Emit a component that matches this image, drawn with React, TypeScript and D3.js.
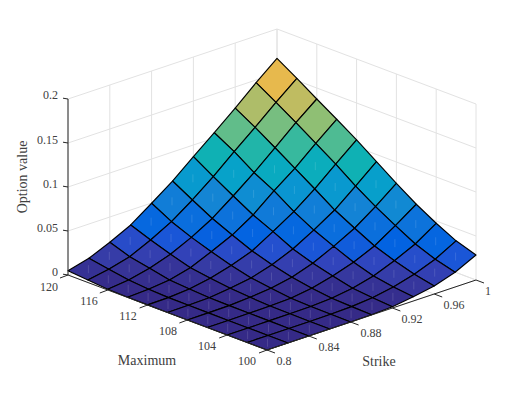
import React from "react";
import * as d3 from "d3";

const strikes = [0.8, 0.82, 0.84, 0.86, 0.88, 0.9, 0.92, 0.94, 0.96, 0.98, 1];
const maximums = [100, 102, 104, 106, 108, 110, 112, 114, 116, 118, 120];
// rows: strike, columns: maximum
const row080 = [0, 0, 0, 0, 0, 0, 0.0001, 0.0002, 0.0008, 0.0028, 0.0049];
const row082 = [0, 0, 0, 0, 0.0001, 0.0002, 0.0004, 0.0015, 0.0034, 0.007, 0.011];
const row084 = [0, 0, 0.0001, 0.0002, 0.0004, 0.0009, 0.0023, 0.004, 0.0087, 0.0134, 0.0213];
const row086 = [0, 0, 0.0002, 0.0005, 0.0019, 0.0036, 0.0065, 0.01, 0.0167, 0.0244, 0.033];
const row088 = [0, 0.0002, 0.0005, 0.0014, 0.0042, 0.0075, 0.013, 0.0202, 0.028, 0.0373, 0.0497];
const row090 = [0.0003, 0.001, 0.0019, 0.0048, 0.0087, 0.0145, 0.0216, 0.0312, 0.0415, 0.054, 0.067];
const row092 = [0.0015, 0.0032, 0.0053, 0.0108, 0.0167, 0.0244, 0.0356, 0.046, 0.0591, 0.0725, 0.0867];
const row094 = [0.0049, 0.0074, 0.0114, 0.0184, 0.028, 0.038, 0.0504, 0.0655, 0.0776, 0.093, 0.106];
const row096 = [0.0091, 0.0139, 0.0208, 0.029, 0.0406, 0.0528, 0.0682, 0.0832, 0.098, 0.1127, 0.126];
const row098 = [0.0167, 0.023, 0.0318, 0.0441, 0.0572, 0.072, 0.0886, 0.1036, 0.1185, 0.133, 0.147];
const row100 = [0.0284, 0.036, 0.0474, 0.0605, 0.0758, 0.0918, 0.108, 0.123, 0.1375, 0.1525, 0.1667];
const values = [row080, row082, row084, row086, row088, row090, row092, row094, row096, row098, row100];

const zTicks = [0, 0.05, 0.1, 0.15, 0.2];
const strikeTicks = [0.8, 0.84, 0.88, 0.92, 0.96, 1];
const maximumTicks = [100, 104, 108, 112, 116, 120];
const strikeLabels = ["0.8", "0.84", "0.88", "0.92", "0.96", "1"];
const maximumLabels = ["100", "104", "108", "112", "116", "120"];
const zLabels = ["0", "0.05", "0.1", "0.15", "0.2"];

const colorStops = [
  "#352a87", "#363ba5", "#3243ba", "#2053d4", "#0363e1", "#0d73db", "#1485d4", "#0997d0",
  "#06a7c6", "#10b2b2", "#38b99e", "#62bd89", "#92bf73", "#b6bd66", "#d1bb59", "#ecb94a",
  "#fec832", "#f9e020", "#f9fb0e",
];
const colorPos = [
  0, 0.04, 0.0625, 0.0938, 0.125, 0.19, 0.25, 0.31,
  0.375, 0.44, 0.5, 0.56, 0.625, 0.69, 0.75, 0.81,
  0.875, 0.94, 1,
];

const sK = d3.scaleLinear().domain([0.8, 1]).range([0, 1]);
const sM = d3.scaleLinear().domain([100, 120]).range([0, 1]);
const sZ = d3.scaleLinear().domain([0, 0.2]).range([0, 176]);
const color = d3
  .scaleLinear<string>()
  .domain(colorPos.map((t) => t * 0.1667))
  .range(colorStops)
  .clamp(true);

const FRONT = [267, 350];
const K_VEC = [209, -70];
const M_VEC = [-199, -75];

function project(k: number, m: number, z: number): [number, number] {
  const a = sK(k);
  const b = sM(m);
  return [FRONT[0] + a * K_VEC[0] + b * M_VEC[0], FRONT[1] + a * K_VEC[1] + b * M_VEC[1] - sZ(z)];
}
const pts = (p: [number, number][]) => p.map((q) => q.join(",")).join(" ");

const FONT = "'Liberation Serif', serif";
const GRID = "#e2e2e2";
const AXIS = "#262626";
const TEXT = "#404040";

export default function App() {
  const kMin = strikes[0];
  const kMax = strikes[strikes.length - 1];
  const mMin = maximums[0];
  const mMax = maximums[maximums.length - 1];
  const zMax = zTicks[zTicks.length - 1];

  const gridLines: [[number, number], [number, number]][] = [];
  strikeTicks.forEach((k) => {
    gridLines.push([project(k, mMax, 0), project(k, mMax, zMax)]);
    gridLines.push([project(k, mMin, 0), project(k, mMax, 0)]);
  });
  maximumTicks.forEach((m) => {
    gridLines.push([project(kMax, m, 0), project(kMax, m, zMax)]);
    gridLines.push([project(kMin, m, 0), project(kMax, m, 0)]);
  });
  zTicks.forEach((z) => {
    gridLines.push([project(kMin, mMax, z), project(kMax, mMax, z)]);
    gridLines.push([project(kMax, mMin, z), project(kMax, mMax, z)]);
  });

  const faces: React.ReactNode[] = [];
  for (let i = strikes.length - 2; i >= 0; i--) {
    for (let j = maximums.length - 2; j >= 0; j--) {
      const a = project(strikes[i], maximums[j], values[i][j]);
      const b = project(strikes[i + 1], maximums[j], values[i + 1][j]);
      const c = project(strikes[i + 1], maximums[j + 1], values[i + 1][j + 1]);
      const d = project(strikes[i], maximums[j + 1], values[i][j + 1]);
      const fill = color(values[i][j]);
      const mx = (a[0] + c[0]) / 2;
      const my = (a[1] + c[1]) / 2;
      faces.push(
        <g key={`${i}-${j}`}>
          <polygon
            points={pts([a, b, c, d])}
            fill={fill}
            stroke="#000"
            strokeWidth={1.15}
            strokeLinejoin="round"
          />
          {values[i][j] < 0.07 && (
            <line x1={mx} y1={my - 4} x2={mx} y2={my + 4} stroke="#fff" strokeOpacity={0.13} strokeWidth={1} />
          )}
        </g>
      );
    }
  }

  const zLabelY = [272, 228, 184, 140, 95];
  const maxLabelPos = [[247, 361], [207, 346], [168, 331], [128, 316], [89, 301], [49, 287]];
  const strikeLabelPos = [[284, 361], [329, 347], [371, 333], [412, 319], [454, 305], [488, 291]];

  return (
    <svg
      width={525}
      height={394}
      viewBox="0 0 525 394"
      style={{ position: "absolute", left: 0, top: 0, background: "#fff", display: "block" }}
    >
      {gridLines.map((l, i) => (
        <line key={i} x1={l[0][0]} y1={l[0][1]} x2={l[1][0]} y2={l[1][1]} stroke={GRID} strokeWidth={1} />
      ))}
      {faces}
      {(() => {
        const o = project(kMin, mMax, 0);
        const t = project(kMin, mMax, zMax);
        const f = project(kMin, mMin, 0);
        const r = project(kMax, mMin, 0);
        return (
          <g stroke={AXIS} strokeWidth={1} fill="none">
            <line x1={o[0]} y1={o[1]} x2={t[0]} y2={t[1]} />
            <polyline points={pts([o, f, r])} />
            {zTicks.map((z) => {
              const p = project(kMin, mMax, z);
              return <line key={z} x1={p[0]} y1={p[1]} x2={p[0] - 5} y2={p[1] - 0.8} />;
            })}
            {maximumTicks.map((m) => {
              const p = project(kMin, m, 0);
              return <line key={m} x1={p[0]} y1={p[1]} x2={p[0] - 8} y2={p[1] + 3} />;
            })}
            {strikeTicks.map((k) => {
              const p = project(k, mMin, 0);
              return <line key={k} x1={p[0]} y1={p[1]} x2={p[0] + 8} y2={p[1] + 3} />;
            })}
          </g>
        );
      })()}
      <g fontFamily={FONT} fontSize={12} fill={TEXT}>
        {zLabels.map((s, i) => (
          <text key={s} x={58} y={zLabelY[i]} textAnchor="end" dominantBaseline="central">
            {s}
          </text>
        ))}
        {maximumLabels.map((s, i) => (
          <text key={s} x={maxLabelPos[i][0]} y={maxLabelPos[i][1]} textAnchor="middle" dominantBaseline="central">
            {s}
          </text>
        ))}
        {strikeLabels.map((s, i) => (
          <text key={s} x={strikeLabelPos[i][0]} y={strikeLabelPos[i][1]} textAnchor="middle" dominantBaseline="central">
            {s}
          </text>
        ))}
      </g>
      <g fontFamily={FONT} fontSize={14} fill={TEXT}>
        <text x={147} y={360} textAnchor="middle" dominantBaseline="central">Maximum</text>
        <text x={379} y={361} textAnchor="middle" dominantBaseline="central">Strike</text>
        <text
          transform="translate(22,177) rotate(-90)"
          textAnchor="middle"
          dominantBaseline="central"
        >
          Option value
        </text>
      </g>
    </svg>
  );
}
